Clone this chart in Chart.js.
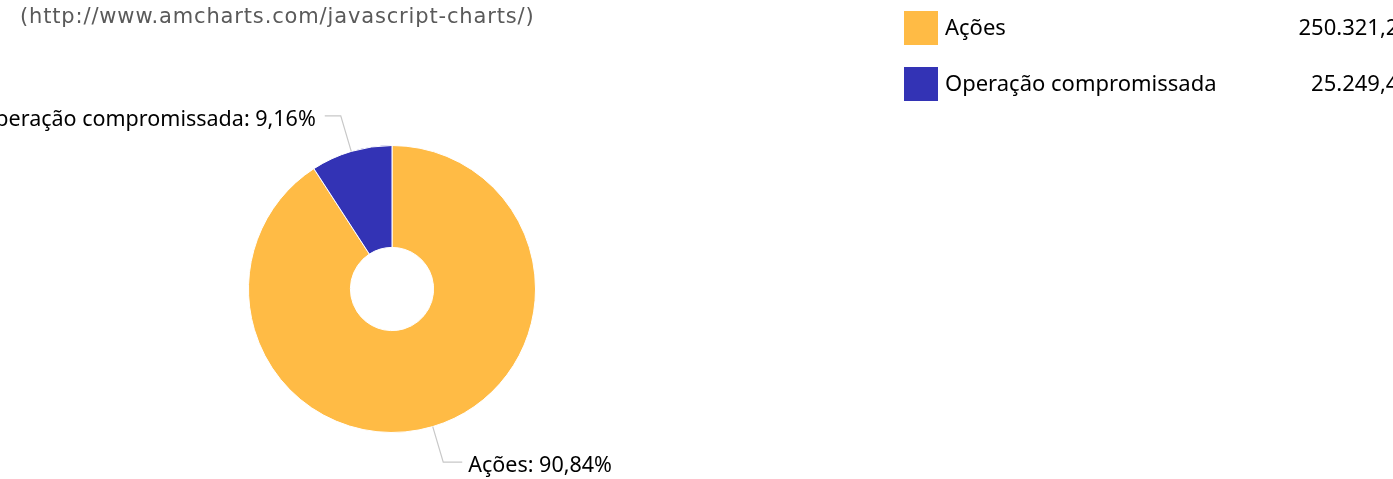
<!DOCTYPE html>
<html>
<head>
<meta charset="utf-8">
<script src="https://cdn.jsdelivr.net/npm/chart.js@4.4.0/dist/chart.umd.min.js"></script>
<style>
  html, body { margin: 0; padding: 0; background: #fff; overflow: hidden; }
  #wrap { position: relative; width: 1393px; height: 479px; }
</style>
</head>
<body>
<div id="wrap"><canvas id="chart" width="1393" height="479"></canvas></div>
<script>
  const categories = ['Ações', 'Operação compromissada'];
  const values = [250321.25, 25249.45];
  const colors = ['#FFBB45', '#3333B5'];
  const creditText = '(http://www.amcharts.com/javascript-charts/)';

  const total = values.reduce((a, b) => a + b, 0);

  // formato pt-BR manual: 250.321,25
  function formatBR(v, decimals) {
    const parts = v.toFixed(decimals).split('.');
    const intPart = parts[0].replace(/\B(?=(\d{3})+(?!\d))/g, '.');
    return parts.length > 1 ? intPart + ',' + parts[1] : intPart;
  }

  const LABEL_FONT = '21.5px "Noto Sans"';
  const LEGEND_FONT = '22px "Noto Sans"';

  const amPlugin = {
    id: 'amExtras',
    afterDraw(chart) {
      const ctx = chart.ctx;
      const meta = chart.getDatasetMeta(0);
      ctx.save();

      // crédito no topo
      ctx.font = '21px "DejaVu Sans"';
      ctx.letterSpacing = '0.85px';
      ctx.fillStyle = '#5a5a5a';
      ctx.textAlign = 'left';
      ctx.textBaseline = 'middle';
      ctx.fillText(creditText, 20, 18);
      ctx.letterSpacing = '0px';

      // rótulos das fatias com linhas
      meta.data.forEach((arc, i) => {
        const mid = (arc.startAngle + arc.endAngle) / 2;
        const r = arc.outerRadius;
        const cos = Math.cos(mid), sin = Math.sin(mid);
        const x0 = arc.x + cos * r, y0 = arc.y + sin * r;
        const x1 = arc.x + cos * (r + 37), y1 = arc.y + sin * (r + 37);
        const right = cos >= 0;
        const x2 = x1 + (right ? 19 : -16);
        ctx.strokeStyle = '#c8c8c8';
        ctx.lineWidth = 1.2;
        ctx.beginPath();
        ctx.moveTo(x0, y0);
        ctx.lineTo(x1, y1);
        ctx.lineTo(x2, y1);
        ctx.stroke();
        const pct = formatBR(values[i] / total * 100, 2) + '%';
        ctx.font = LABEL_FONT;
        ctx.fillStyle = '#000000';
        ctx.textAlign = right ? 'left' : 'right';
        ctx.fillText(categories[i] + ': ' + pct, x2 + (right ? 6 : -9), y1 + 4);
      });

      // legenda à direita
      categories.forEach((c, i) => {
        const y = 11 + i * 56;
        ctx.fillStyle = colors[i];
        ctx.fillRect(904, y, 34, 34);
        ctx.font = LEGEND_FONT;
        ctx.fillStyle = '#000000';
        ctx.textAlign = 'left';
        ctx.textBaseline = 'middle';
        ctx.fillText(c, 945, y + 18);
        ctx.textAlign = 'right';
        ctx.fillText(formatBR(values[i], 2), 1411, y + 18);
      });

      ctx.restore();
    }
  };

  new Chart(document.getElementById('chart'), {
    type: 'doughnut',
    data: {
      labels: categories,
      datasets: [{
        data: values,
        backgroundColor: colors,
        borderColor: '#ffffff',
        borderWidth: 1
      }]
    },
    options: {
      responsive: false,
      animation: false,
      cutout: '29%',
      layout: { padding: { left: 248, right: 857, top: 145, bottom: 46 } },
      plugins: {
        legend: { display: false },
        tooltip: { enabled: false }
      }
    },
    plugins: [amPlugin]
  });
</script>
</body>
</html>
